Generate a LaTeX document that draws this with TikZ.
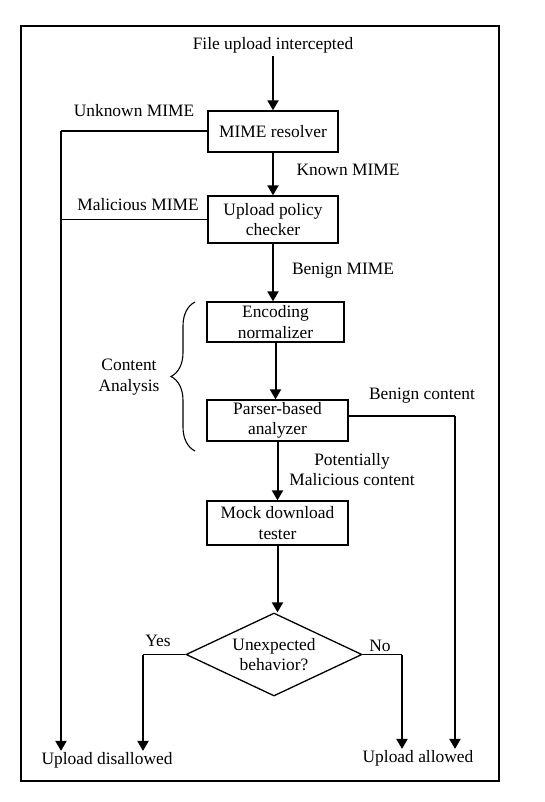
\documentclass[tikz,border=0pt]{standalone}
\usepackage{fontspec}
\setmainfont{Liberation Serif}
\usetikzlibrary{arrows.meta,shapes.geometric,decorations.pathreplacing}
\begin{document}
\begin{tikzpicture}[x=1pt,y=-1pt,
  every node/.style={font=\fontsize{17.4}{20.5}\selectfont},
  lbl/.style={inner sep=2pt,align=center},
  procbox/.style={draw,line width=1.3pt,inner sep=0pt,align=center},
  decide/.style={draw,diamond,aspect=2.12,line width=1.3pt,inner sep=0pt,align=center,minimum width=176pt,minimum height=83pt},
  flow/.style={line width=2pt,-{Triangle[length=10pt,width=11pt]}},
  plain/.style={line width=1.3pt},
  endtxt/.style={inner sep=1pt}]
\useasboundingbox (0,0) rectangle (545,802);
\draw[line width=1.3pt] (21,26) rectangle (499,781);

\node[lbl,inner sep=3pt] (start) at (273,45) {File upload intercepted};
\node[procbox,minimum width=130pt,minimum height=41pt] (mime) at (273,131.5) {MIME resolver};
\node[procbox,minimum width=130pt,minimum height=47pt] (policy) at (273,219.5) {Upload policy\\checker};
\node[procbox,minimum width=137pt,minimum height=40pt] (enc) at (275.5,322) {Encoding\\normalizer};
\node[procbox,minimum width=141pt,minimum height=41pt] (parser) at (277.5,420.5) {Parser-based\\analyzer};
\node[procbox,minimum width=141pt,minimum height=44pt] (mock) at (277.5,523) {Mock download\\tester};
\node[decide] (dec) at (274,654.5) {Unexpected\\behavior?};

\node[endtxt] (dis) at (107,760) {Upload disallowed};
\node[endtxt] (allow) at (418,758) {Upload allowed};

\node[lbl] (lunk) at (134,111) {Unknown MIME};
\node[lbl] (lknown) at (348,170) {Known MIME};
\node[lbl] (lmal) at (138,205) {Malicious MIME};
\node[lbl] (lben) at (343,271) {Benign MIME};
\node[lbl] (lcont) at (129,377) {Content\\Analysis};
\node[lbl] (lbenc) at (422,396) {Benign content};
\node[lbl] (lpot) at (352,469.5) {Potentially\\Malicious content};
\node[lbl] (lyes) at (158,641) {Yes};
\node[lbl] (lno) at (380,646) {No};

\coordinate (lx) at (61,131);
\coordinate (rx) at (455,416);
\coordinate (yx) at (143,654.5);
\coordinate (nx) at (402,654.5);

% main flow
\draw[flow] (start.south) -- (mime.north);
\draw[flow] (mime.south) -- (policy.north);
\draw[flow] (policy.south) -- (policy.south |- enc.north);
\draw[flow] (enc.south) -- (enc.south |- parser.north);
\draw[flow] (parser.south) -- (parser.south |- mock.north);
\draw[flow] (mock.south) -- (mock.south |- dec.north);

% rejections
\draw[plain] (mime.west |- lx) -- (lx);
\draw[flow] (lx) -- (lx |- dis.north);
\draw[plain] (policy.west) -- (policy.west -| lx);

% benign content
\draw[plain] (parser.east |- rx) -- (rx);
\draw[flow] (rx) -- (rx |- allow.north);

% decision
\draw[plain] (dec.west) -- (yx);
\draw[flow] (yx) -- (yx |- dis.north);
\draw[plain] (dec.east) -- (nx);
\draw[flow] (nx) -- (nx |- allow.north);

% brace
\coordinate (bb) at (195,451);
\coordinate (bt) at (195,302);
\draw[line width=1.1pt,decorate,decoration={brace,amplitude=24pt,aspect=0.5}] (bb) -- (bt);
\end{tikzpicture}
\end{document}
